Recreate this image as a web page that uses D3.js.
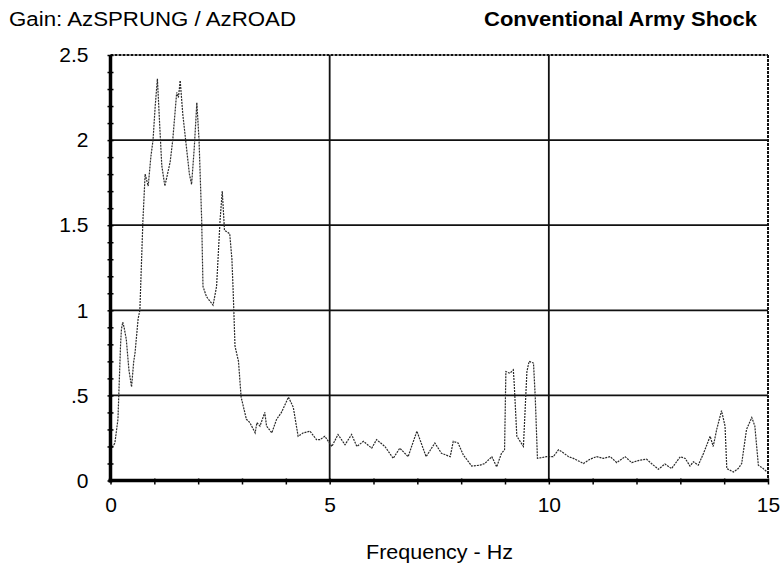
<!DOCTYPE html>
<html>
<head>
<meta charset="utf-8">
<script src="https://cdn.jsdelivr.net/npm/d3@7/dist/d3.min.js"></script>
<style>
  html, body { margin: 0; padding: 0; background: #fff; }
  svg { display: block; font-family: "Liberation Sans", Arial, Helvetica, sans-serif; }
</style>
</head>
<body>
<svg id="chart" width="784" height="569"></svg>
<script>
// Gain spectrum AzSPRUNG / AzROAD for the conventional army shock
const frequencyHz = [
  0.00, 0.05, 0.10, 0.17, 0.23, 0.25, 0.28, 0.31, 0.36, 0.42,
  0.48, 0.53, 0.56, 0.63, 0.67, 0.74, 0.79, 0.83, 0.86, 0.92,
  0.97, 1.02, 1.07, 1.12, 1.17, 1.24, 1.30, 1.36, 1.42, 1.51,
  1.55, 1.59, 1.65, 1.74, 1.80, 1.85, 1.91, 1.97, 2.02, 2.08,
  2.11, 2.19, 2.34, 2.42, 2.50, 2.55, 2.60, 2.72, 2.77, 2.80,
  2.84, 2.92, 2.98, 3.10, 3.18, 3.30, 3.34, 3.41, 3.52, 3.56,
  3.68, 3.79, 3.90, 4.06, 4.17, 4.28, 4.40, 4.55, 4.70, 4.78,
  4.89, 5.05, 5.19, 5.35, 5.50, 5.62, 5.77, 5.96, 6.07, 6.26,
  6.45, 6.60, 6.79, 6.99, 7.06, 7.20, 7.40, 7.55, 7.75, 7.82,
  7.93, 8.05, 8.24, 8.43, 8.54, 8.70, 8.81, 8.92, 8.99, 9.02,
  9.11, 9.19, 9.21, 9.27, 9.42, 9.50, 9.55, 9.65, 9.69, 9.74,
  9.95, 10.10, 10.22, 10.29, 10.45, 10.56, 10.79, 10.94, 11.09, 11.24,
  11.40, 11.55, 11.74, 11.89, 12.08, 12.23, 12.34, 12.50, 12.65, 12.80,
  13.00, 13.11, 13.22, 13.30, 13.41, 13.53, 13.68, 13.75, 13.83, 13.94,
  14.02, 14.06, 14.21, 14.32, 14.40, 14.51, 14.63, 14.70, 14.78, 14.89,
  14.98
];
const gain = [
  0.18, 0.20, 0.22, 0.36, 0.80, 0.89, 0.93, 0.90, 0.83, 0.65,
  0.55, 0.70, 0.75, 0.95, 1.00, 1.53, 1.80, 1.76, 1.73, 1.90,
  2.00, 2.20, 2.36, 2.10, 1.85, 1.73, 1.80, 1.87, 2.00, 2.28,
  2.25, 2.35, 2.15, 1.94, 1.80, 1.74, 1.95, 2.22, 2.00, 1.53,
  1.14, 1.08, 1.03, 1.14, 1.53, 1.70, 1.47, 1.45, 1.30, 1.10,
  0.79, 0.70, 0.49, 0.36, 0.34, 0.28, 0.34, 0.32, 0.40, 0.32,
  0.28, 0.36, 0.40, 0.49, 0.43, 0.26, 0.28, 0.29, 0.24, 0.24,
  0.26, 0.20, 0.27, 0.21, 0.27, 0.20, 0.23, 0.19, 0.24, 0.20,
  0.13, 0.19, 0.14, 0.29, 0.24, 0.14, 0.22, 0.16, 0.14, 0.23,
  0.22, 0.15, 0.085, 0.09, 0.10, 0.14, 0.08, 0.16, 0.18, 0.64,
  0.63, 0.65, 0.57, 0.26, 0.20, 0.64, 0.70, 0.69, 0.49, 0.13,
  0.14, 0.14, 0.18, 0.17, 0.14, 0.13, 0.10, 0.125, 0.14, 0.13,
  0.14, 0.105, 0.14, 0.105, 0.12, 0.125, 0.10, 0.066, 0.097, 0.07,
  0.14, 0.13, 0.085, 0.11, 0.09, 0.16, 0.26, 0.20, 0.30, 0.41,
  0.32, 0.07, 0.05, 0.07, 0.10, 0.30, 0.37, 0.32, 0.09, 0.07,
  0.05
];
const xTicks = [0, 5, 10, 15];
const yTicks = [0, 0.5, 1, 1.5, 2, 2.5];
const yTickLabels = ["0", ".5", "1", "1.5", "2", "2.5"];
const titleLeft = "Gain: AzSPRUNG / AzROAD";
const titleRight = "Conventional Army Shock";
const xTitle = "Frequency - Hz";

const svg = d3.select("#chart");
const plotLeft = 110.5, plotRight = 768, plotTop = 55, plotBottom = 480.5;
const labelFont = "'Liberation Sans', Arial, sans-serif";

const x = d3.scaleLinear().domain([0, 15]).range([plotLeft, plotRight]);
const y = d3.scaleLinear().domain([0, 2.5]).range([plotBottom, plotTop]);

// grid lines
const grid = svg.append("g");
grid.selectAll("line.h")
  .data(yTicks.filter(v => v > 0 && v < 2.5))
  .join("line")
  .attr("x1", plotLeft).attr("x2", plotRight)
  .attr("y1", d => y(d)).attr("y2", d => y(d))
  .attr("stroke", "#111").attr("stroke-width", 1.8);
grid.selectAll("line.v")
  .data(xTicks.filter(v => v > 0 && v < 15))
  .join("line")
  .attr("x1", d => x(d)).attr("x2", d => x(d))
  .attr("y1", plotTop).attr("y2", plotBottom)
  .attr("stroke", "#111").attr("stroke-width", 1.8);

// dotted top and right frame
svg.append("line").attr("x1", plotLeft).attr("x2", plotRight).attr("y1", plotTop).attr("y2", plotTop)
  .attr("stroke", "#111").attr("stroke-width", 2).attr("stroke-dasharray", "3,1");
svg.append("line").attr("x1", plotRight).attr("x2", plotRight).attr("y1", plotTop).attr("y2", plotBottom)
  .attr("stroke", "#111").attr("stroke-width", 2).attr("stroke-dasharray", "3,1");

// gain curve
const line = d3.line().x((d, i) => x(frequencyHz[i])).y(d => y(d));
svg.append("path")
  .attr("d", line(gain))
  .attr("fill", "none")
  .attr("stroke", "#2a2a2a")
  .attr("stroke-width", 1.2)
  .attr("stroke-dasharray", "2,1");

// y axis with minor ticks
const yAxis = d3.axisLeft(y).tickValues(d3.range(0, 2.51, 0.1)).tickSize(0).tickFormat("");
const gy = svg.append("g").attr("transform", `translate(${plotLeft},0)`).call(yAxis);
gy.select(".domain").remove();
gy.selectAll(".tick line").remove();
gy.selectAll(".tick").append("line").attr("x1", -3).attr("x2", 3).attr("stroke", "#000").attr("stroke-width", 1.5);
svg.append("line").attr("x1", plotLeft).attr("x2", plotLeft).attr("y1", plotTop).attr("y2", plotBottom + 2)
  .attr("stroke", "#000").attr("stroke-width", 3.5);
const yLab = svg.append("g").attr("transform", `translate(${plotLeft},0)`)
  .call(d3.axisLeft(y).tickValues(yTicks).tickSize(0).tickPadding(22)
    .tickFormat((d, i) => yTickLabels[i]));
yLab.select(".domain").remove();
yLab.selectAll("text").attr("font-size", 21).attr("fill", "#000").attr("font-family", labelFont);

// x axis with minor ticks
const gx = svg.append("g").attr("transform", `translate(0,${plotBottom})`)
  .call(d3.axisBottom(x).tickValues(d3.range(0, 15.01, 1)).tickSize(0).tickFormat(""));
gx.select(".domain").remove();
gx.selectAll(".tick").append("line").attr("y1", -2).attr("y2", 4).attr("stroke", "#000").attr("stroke-width", 1.5);
svg.append("line").attr("x1", plotLeft - 2).attr("x2", plotRight + 1).attr("y1", plotBottom).attr("y2", plotBottom)
  .attr("stroke", "#000").attr("stroke-width", 3.5);
const xLab = svg.append("g").attr("transform", `translate(0,${plotBottom})`)
  .call(d3.axisBottom(x).tickValues(xTicks).tickSize(0).tickPadding(17).tickFormat(d3.format("d")));
xLab.select(".domain").remove();
xLab.selectAll("text").attr("font-size", 21).attr("fill", "#000").attr("font-family", labelFont);

// titles
svg.append("text").attr("x", 9).attr("y", 26).attr("font-size", 20)
  .attr("textLength", 287).attr("lengthAdjust", "spacingAndGlyphs").text(titleLeft);
svg.append("text").attr("x", 484).attr("y", 26)
  .attr("font-size", 20).attr("font-weight", "bold")
  .attr("textLength", 273).attr("lengthAdjust", "spacingAndGlyphs").text(titleRight);
svg.append("text").attr("x", 366).attr("y", 559)
  .attr("font-size", 20)
  .attr("textLength", 147).attr("lengthAdjust", "spacingAndGlyphs").text(xTitle);
</script>
</body>
</html>
